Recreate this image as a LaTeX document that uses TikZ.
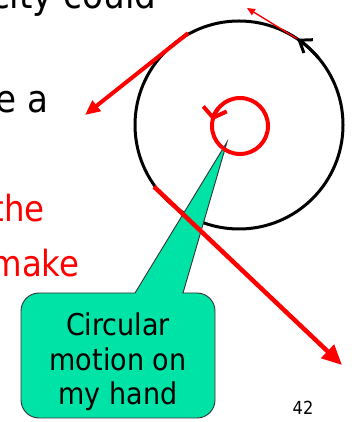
\documentclass[tikz,border=0pt]{standalone}
\usepackage{fontspec}
\setmainfont{DejaVu Sans}[FakeStretch=0.9]
\usetikzlibrary{arrows.meta, calc}
\definecolor{cred}{HTML}{FF0000}
\definecolor{cmint}{HTML}{00E3A6}
\tikzset{
  every picture/.style={line width=1pt},
  wheel/.style={draw=black, line width=3pt},
  push/.style={draw=cred, line width=4pt, -{Triangle[length=15pt, width=13pt]}},
  slide/.style={anchor=base east, inner sep=0pt, font=\fontsize{38}{44}\selectfont},
  callout/.style={fill=cmint, draw=black!80, line width=0.9pt},
}
\begin{document}
\begin{tikzpicture}[
    x=1pt, y=1pt,
    redtext/.style={slide, text=cred, font=\fontsize{36}{42}\selectfont},
    spin/.style={draw=cred, line width=4pt},
  ]
  \useasboundingbox (0,0) rectangle (351,422);
  \clip (0,0) rectangle (351,422);

  % slide text, cut off on the left
  \node[slide] (line1) at (157,413) {city could};
  \node[slide] (line2) at (49,309) {e a};
  \node[redtext] (line3) at (45,200) {the};
  \node[redtext] (line4) at (80,145) {make};

  % the circle and its direction
  \coordinate (hub) at (239,297);
  \draw[wheel] (hub) circle[radius=104pt];
  \draw[wheel, -{Straight Barb[length=11pt, width=16pt]}] ([shift={(40:104)}]hub) arc[start angle=40, end angle=56, radius=104pt];

  % callout
  \draw[callout] (135,129) -- (227,280) -- (183,129) -- (197,129)
    arc[start angle=90, end angle=0, radius=18pt] -- (215,22)
    arc[start angle=0, end angle=-90, radius=18pt] -- (39,4)
    arc[start angle=270, end angle=180, radius=18pt] -- (21,111)
    arc[start angle=180, end angle=90, radius=18pt] -- cycle;
  \node[align=center, font=\fontsize{30}{34.5}\selectfont] (label) at (118,60) {Circular\\motion on\\my hand};

  % tangent velocities
  \coordinate (t1) at ([shift={(56:104)}]hub);
  \coordinate (t2) at ([shift={(119:105)}]hub);
  \coordinate (t3) at ([shift={(216:105)}]hub);
  \coordinate (tip1) at (247,414);
  \coordinate (tip2) at (85,307);
  \coordinate (tip3) at (342,57);
  \draw[cred, line width=1.4pt, -{Triangle[length=8pt, width=7pt]}] (t1) -- (tip1);
  \draw[push] (t2) -- (tip2);
  \draw[push, line width=4.5pt, -{Triangle[length=20pt, width=18pt]}] (t3) -- (tip3);

  % motion of the hand
  \coordinate (hand) at (240,296);
  \draw[spin] (hand) circle[radius=28pt];
  \draw[spin, -{Straight Barb[length=9pt, width=24pt]}] ([shift={(140:28)}]hand) arc[start angle=140, end angle=168, radius=28pt];

  \node[font=\fontsize{18}{20}\selectfont] (page) at (303,14) {42};
\end{tikzpicture}
\end{document}
